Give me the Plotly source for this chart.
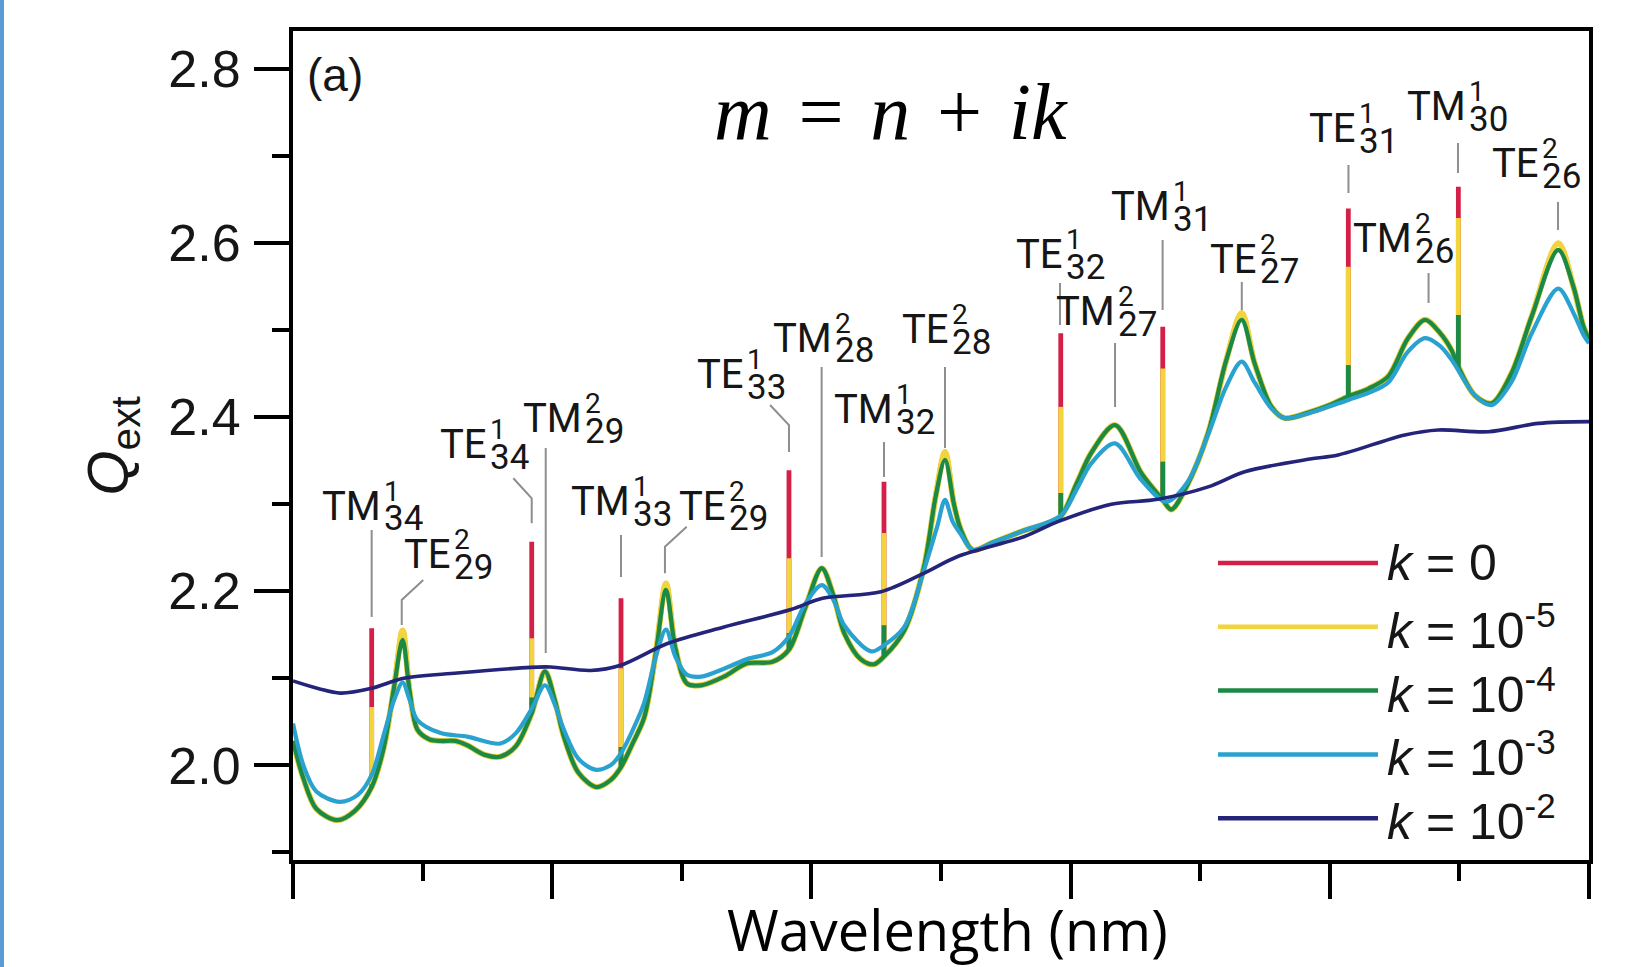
import plotly.graph_objects as go

# ---------------------------------------------------------------------------
# Extinction efficiency Q_ext versus wavelength for m = n + ik.
# Wavelength is given in relative units: major ticks at 0, 2, ..., 10.
# ---------------------------------------------------------------------------

# k = 1e-4 (off the sharp first-order resonances k = 0 and 1e-5 follow it)
wl_k4 = [0.00, 0.08, 0.18, 0.34, 0.48, 0.607, 0.70, 0.78, 0.846, 0.90,
         0.96, 1.05, 1.14, 1.25, 1.344, 1.48, 1.60, 1.72, 1.842, 1.944,
         2.02, 2.09, 2.20, 2.34, 2.45, 2.531, 2.62, 2.71, 2.80, 2.878,
         2.95, 3.04, 3.15, 3.326, 3.50, 3.70, 3.827, 3.95, 4.080, 4.17,
         4.253, 4.38, 4.48, 4.560, 4.717, 4.87, 4.96, 5.031, 5.10, 5.155,
         5.245, 5.40, 5.644, 5.80, 5.924, 6.05, 6.159, 6.343, 6.545, 6.711,
         6.777, 6.90, 7.061, 7.20, 7.320, 7.42, 7.55, 7.652, 7.846, 8.00,
         8.143, 8.30, 8.451, 8.60, 8.735, 8.85, 8.94, 8.992, 9.12, 9.249,
         9.40, 9.558, 9.763, 9.88, 9.958, 10.0]
q_k4 = [2.028, 1.985, 1.950, 1.937, 1.948, 1.975, 2.020, 2.090, 2.144, 2.085,
        2.041, 2.030, 2.028, 2.028, 2.023, 2.012, 2.010, 2.022, 2.060, 2.108,
        2.075, 2.033, 1.992, 1.975, 1.983, 1.998, 2.025, 2.055, 2.130, 2.2015,
        2.135, 2.094, 2.092, 2.102, 2.117, 2.119, 2.133, 2.180, 2.2265, 2.195,
        2.152, 2.122, 2.116, 2.125, 2.155, 2.229, 2.310, 2.351, 2.300, 2.270,
        2.2475, 2.256, 2.270, 2.277, 2.286, 2.325, 2.359, 2.391, 2.336, 2.305,
        2.294, 2.322, 2.382, 2.465, 2.512, 2.462, 2.412, 2.399, 2.406, 2.414,
        2.424, 2.433, 2.447, 2.490, 2.512, 2.497, 2.477, 2.458, 2.425, 2.416,
        2.450, 2.516, 2.5923, 2.550, 2.504, 2.490]

# k = 1e-3
wl_k3 = [0.00, 0.08, 0.18, 0.36, 0.50, 0.607, 0.70, 0.78, 0.846, 0.90,
         0.96, 1.14, 1.344, 1.60, 1.72, 1.842, 1.944, 2.02, 2.09, 2.20,
         2.33, 2.45, 2.531, 2.62, 2.71, 2.80, 2.878, 2.95, 3.04, 3.15,
         3.326, 3.50, 3.70, 3.827, 3.95, 4.080, 4.17, 4.253, 4.46, 4.560,
         4.717, 4.87, 4.97, 5.031, 5.09, 5.155, 5.245, 5.40, 5.644, 5.924,
         6.05, 6.159, 6.343, 6.545, 6.74, 6.90, 7.061, 7.20, 7.320, 7.42,
         7.55, 7.652, 7.846, 8.143, 8.30, 8.451, 8.60, 8.735, 8.85, 8.94,
         9.12, 9.249, 9.40, 9.558, 9.763, 9.88, 9.958, 10.0]
q_k3 = [2.048, 2.000, 1.970, 1.958, 1.966, 1.989, 2.035, 2.075, 2.095, 2.075,
        2.052, 2.037, 2.033, 2.025, 2.037, 2.065, 2.092, 2.070, 2.041, 2.008,
        1.995, 2.000, 2.014, 2.040, 2.072, 2.125, 2.156, 2.125, 2.104, 2.102,
        2.111, 2.122, 2.130, 2.148, 2.185, 2.207, 2.190, 2.161, 2.131, 2.138,
        2.159, 2.225, 2.274, 2.305, 2.280, 2.265, 2.2475, 2.256, 2.270, 2.287,
        2.318, 2.347, 2.370, 2.328, 2.303, 2.325, 2.380, 2.435, 2.464, 2.440,
        2.410, 2.399, 2.405, 2.420, 2.428, 2.440, 2.475, 2.491, 2.482, 2.466,
        2.425, 2.414, 2.440, 2.4966, 2.548, 2.520, 2.4946, 2.485]

# k = 1e-2
wl_k2 = [0.00, 0.20, 0.365, 0.607, 0.855, 1.267, 1.833, 1.988, 2.297, 2.528,
         2.889, 3.326, 3.842, 4.086, 4.537, 4.871, 5.129, 5.644, 5.902, 6.314,
         6.674, 7.061, 7.344, 7.846, 8.064, 8.579, 8.837, 9.223, 9.61, 10.0]
q_k2 = [2.097, 2.088, 2.083, 2.0885, 2.100, 2.106, 2.1126, 2.113, 2.109, 2.115,
        2.140, 2.159, 2.179, 2.192, 2.1995, 2.221, 2.240, 2.263, 2.280, 2.300,
        2.3057, 2.320, 2.3375, 2.352, 2.3567, 2.3797, 2.3854, 2.3834, 2.393, 2.395]

# Sharp first-order resonances: position, foot on the k = 1e-4 curve,
# and peak height for each small k
res_wl = [0.607, 1.842, 2.531, 3.827, 4.560, 5.924, 6.711, 8.143, 8.992]
res_base = [1.975, 2.060, 1.998, 2.133, 2.125, 2.286, 2.305, 2.424, 2.458]
res_peak_k0 = [2.1575, 2.257, 2.192, 2.339, 2.326, 2.4966, 2.504, 2.640, 2.665]
res_peak_k5 = [2.067, 2.146, 2.1115, 2.238, 2.267, 2.412, 2.456, 2.573, 2.629]
res_peak_k4 = [1.978, 2.078, 2.021, 2.152, 2.161, 2.313, 2.349, 2.460, 2.5176]

# Second-order TE peaks, where k = 1e-5 tops k = 1e-4 slightly
te2_wl = [0.846, 2.878, 5.031, 7.320, 9.763]
te2_peak_k5 = [2.155, 2.209, 2.360, 2.520, 2.600]

# Mode labels: name, superscript, subscript, x where the scripts start,
# label baseline (data units)
mode_labels = [
    ("TM", "1", "34", 0.694, 2.282),
    ("TE", "2", "29", 1.235, 2.2264),
    ("TE", "1", "34", 1.512, 2.3532),
    ("TM", "2", "29", 2.245, 2.3831),
    ("TM", "1", "33", 2.616, 2.2877),
    ("TE", "2", "29", 3.353, 2.282),
    ("TE", "1", "33", 3.495, 2.4337),
    ("TM", "2", "28", 4.174, 2.4751),
    ("TM", "1", "32", 4.645, 2.3934),
    ("TE", "2", "28", 5.077, 2.4854),
    ("TE", "1", "32", 5.957, 2.5716),
    ("TM", "2", "27", 6.358, 2.5061),
    ("TM", "1", "31", 6.782, 2.6268),
    ("TE", "2", "27", 7.454, 2.5659),
    ("TE", "1", "31", 8.218, 2.7164),
    ("TM", "2", "26", 8.650, 2.590),
    ("TM", "1", "30", 9.066, 2.7417),
    ("TE", "2", "26", 9.630, 2.6762),
]

# Leader lines from each label down to its resonance
leaders = [
    [(0.607, 2.2704), (0.607, 2.1705)],
    [(1.005, 2.213), (0.839, 2.190), (0.839, 2.1613)],
    [(1.700, 2.3299), (1.842, 2.3069), (1.842, 2.2782)],
    [(1.950, 2.3647), (1.950, 2.1291)],
    [(2.531, 2.2647), (2.531, 2.2164)],
    [(3.038, 2.2743), (2.870, 2.2513), (2.870, 2.2207)],
    [(3.681, 2.4141), (3.827, 2.3911), (3.827, 2.3601)],
    [(4.079, 2.4578), (4.079, 2.2394)],
    [(4.560, 2.3716), (4.560, 2.3314)],
    [(5.031, 2.4578), (5.031, 2.3647)],
    [(5.918, 2.5544), (5.918, 2.5061)],
    [(6.343, 2.4854), (6.343, 2.4118)],
    [(6.710, 2.6038), (6.710, 2.5233)],
    [(7.321, 2.5555), (7.321, 2.5233)],
    [(8.144, 2.690), (8.144, 2.6578)],
    [(8.762, 2.5659), (8.762, 2.5314)],
    [(8.989, 2.7153), (8.989, 2.6808)],
    [(9.761, 2.6475), (9.761, 2.6153)],
]

legend_labels = ["<i>k</i> = 0", "<i>k</i> = 10<sup>-5</sup>", "<i>k</i> = 10<sup>-4</sup>",
                 "<i>k</i> = 10<sup>-3</sup>", "<i>k</i> = 10<sup>-2</sup>"]

# ---------------------------------------------------------------------------
RED, YELLOW, GREEN, CYAN, NAVY = "#d41f47", "#f2d43c", "#1b8a47", "#2aa2cf", "#24247a"
SANS = "Liberation Sans, Arial, Helvetica, sans-serif"
LABEL_FONT = "Roboto, Liberation Sans, Arial, sans-serif"
INK = "#161616"

W, H = 1645, 967
PLOT_L, PLOT_R, PLOT_T, PLOT_B = 293, 1589, 31, 860


def paper_x(px):
    return (px - PLOT_L) / (PLOT_R - PLOT_L)


def paper_y(py):
    return (PLOT_B - py) / (PLOT_B - PLOT_T)


te2_tip = dict(zip(te2_wl, te2_peak_k5))
q_k5 = [te2_tip.get(x, y) for x, y in zip(wl_k4, q_k4)]


def spike_xy(peaks):
    xs, ys = [], []
    for x, b, p in zip(res_wl, res_base, peaks):
        xs += [x, x, None]
        ys += [b, p, None]
    return xs, ys


fig = go.Figure()

series = [
    ("k = 0", RED, q_k5, res_peak_k0, 5.0),
    ("k = 1e-5", YELLOW, q_k5, res_peak_k5, 6.0),
    ("k = 1e-4", GREEN, q_k4, res_peak_k4, 4.3),
]
for name, color, ys, peaks, lw in series:
    fig.add_trace(go.Scatter(x=wl_k4, y=ys, mode="lines", name=name,
                             line=dict(color=color, width=lw, shape="spline", smoothing=0.9),
                             legendgroup=name, showlegend=False, hoverinfo="skip"))
    sx, sy = spike_xy(peaks)
    fig.add_trace(go.Scatter(x=sx, y=sy, mode="lines", name=name,
                             line=dict(color=color, width=4.8),
                             legendgroup=name, showlegend=False, hoverinfo="skip"))

fig.add_trace(go.Scatter(x=wl_k3, y=q_k3, mode="lines", name="k = 1e-3",
                         line=dict(color=CYAN, width=4.2, shape="spline", smoothing=0.9),
                         showlegend=False, hoverinfo="skip"))
fig.add_trace(go.Scatter(x=wl_k2, y=q_k2, mode="lines", name="k = 1e-2",
                         line=dict(color=NAVY, width=3.6, shape="spline", smoothing=0.9),
                         showlegend=False, hoverinfo="skip"))

# leader lines
lx, ly = [], []
for path in leaders:
    for x, y in path:
        lx.append(x)
        ly.append(y)
    lx.append(None)
    ly.append(None)
fig.add_trace(go.Scatter(x=lx, y=ly, mode="lines", line=dict(color="#8e8e8e", width=2),
                         showlegend=False, hoverinfo="skip"))

annotations = []
MAIN_FS, SUP_FS, SUB_FS = 40, 28, 35
MID = 0.342  # text box middle above the baseline, in em
for mode, sup, sub, xs, yb in mode_labels:
    annotations.append(dict(x=xs, y=yb, xref="x", yref="y", text=mode, showarrow=False,
                            xanchor="right", yanchor="middle", xshift=-1,
                            yshift=MID * MAIN_FS, borderpad=0,
                            font=dict(family=LABEL_FONT, size=MAIN_FS, color=INK)))
    annotations.append(dict(x=xs, y=yb, xref="x", yref="y", text=sup, showarrow=False,
                            xanchor="left", yanchor="middle",
                            yshift=19 + MID * SUP_FS, borderpad=0,
                            font=dict(family=LABEL_FONT, size=SUP_FS, color=INK)))
    annotations.append(dict(x=xs, y=yb, xref="x", yref="y", text=sub, showarrow=False,
                            xanchor="left", yanchor="middle",
                            yshift=-11 + MID * SUB_FS, borderpad=0,
                            font=dict(family=LABEL_FONT, size=SUB_FS, color=INK)))

# legend drawn as long line samples with labels
shapes = []
legend_colors = [RED, YELLOW, GREEN, CYAN, NAVY]
for i, (lab, col) in enumerate(zip(legend_labels, legend_colors)):
    py = 563 + i * 63.8
    shapes.append(dict(type="line", xref="paper", yref="paper",
                       x0=paper_x(1218), x1=paper_x(1378), y0=paper_y(py), y1=paper_y(py),
                       line=dict(color=col, width=4.5)))
    annotations.append(dict(x=paper_x(1386), y=paper_y(py), xref="paper", yref="paper",
                            text=lab, showarrow=False, xanchor="left", yanchor="middle",
                            borderpad=0, font=dict(family=SANS, size=50, color=INK)))

# panel tag, refractive index and axis titles
annotations.append(dict(x=paper_x(306), y=paper_y(75), xref="paper", yref="paper",
                        text="(a)", showarrow=False, xanchor="left", yanchor="middle",
                        borderpad=0, font=dict(family=SANS, size=46, color=INK)))
HS = "\u200a"
annotations.append(dict(x=paper_x(891), y=paper_y(112), xref="paper", yref="paper",
                        text=f"<i>m</i> {HS}={HS} <i>n</i> {HS}+{HS} <i>ik</i>", showarrow=False,
                        xanchor="center", yanchor="middle", borderpad=0,
                        font=dict(family="Liberation Serif, Times New Roman, serif",
                                  size=80, color="#000000")))
annotations.append(dict(x=paper_x(947), y=paper_y(929), xref="paper", yref="paper",
                        text="Wavelength (nm)", showarrow=False,
                        xanchor="center", yanchor="middle", borderpad=0,
                        font=dict(family="Open Sans, Lato, sans-serif", size=56, color="#000000")))
annotations.append(dict(x=paper_x(111), y=paper_y(445.5), xref="paper", yref="paper",
                        text="<i>Q</i><sub>ext</sub>", showarrow=False, textangle=-90,
                        xanchor="center", yanchor="middle", borderpad=0,
                        font=dict(family=SANS, size=58, color=INK)))

# blue strip on the left edge of the slide
shapes.append(dict(type="rect", xref="paper", yref="paper",
                   x0=paper_x(0), x1=paper_x(4), y0=paper_y(H), y1=paper_y(0),
                   fillcolor="#5b9bd5", line=dict(width=0)))

axis_common = dict(showline=True, linecolor="black", linewidth=4, mirror=True,
                   ticks="outside", ticklen=35, tickwidth=4, tickcolor="black",
                   showgrid=False, zeroline=False)

fig.update_layout(
    width=W, height=H,
    margin=dict(l=PLOT_L, r=W - PLOT_R, t=PLOT_T, b=H - PLOT_B, autoexpand=False),
    paper_bgcolor="white", plot_bgcolor="white",
    showlegend=False,
    xaxis=dict(range=[0, 10], tick0=0, dtick=2, showticklabels=False,
               minor=dict(ticks="outside", dtick=1, ticklen=17, tickwidth=4,
                          tickcolor="black", showgrid=False),
               **axis_common),
    yaxis=dict(range=[1.89115, 2.844], tick0=2.0, dtick=0.2, tickformat=".1f",
               tickfont=dict(family=SANS, size=52, color=INK), ticklabelstandoff=3,
               minor=dict(ticks="outside", dtick=0.1, ticklen=17, tickwidth=4,
                          tickcolor="black", showgrid=False),
               **axis_common),
    annotations=annotations,
    shapes=shapes,
)

fig.write_html("out.html")
